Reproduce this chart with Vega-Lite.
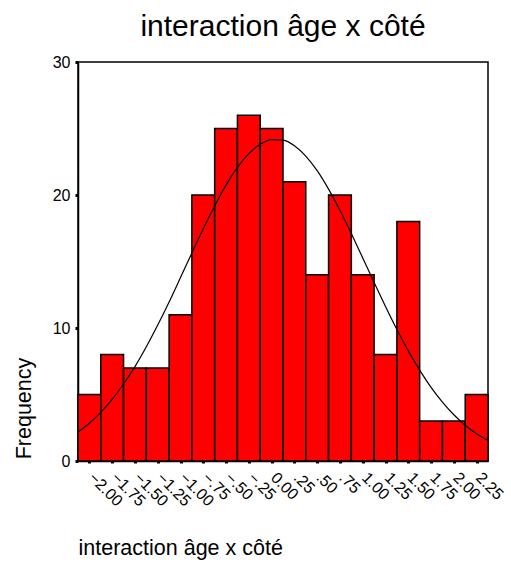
{
  "$schema": "https://vega.github.io/schema/vega-lite/v6.json",
  "autosize": {"type": "none"},
  "width": 410,
  "height": 399,
  "padding": {"left": 78, "top": 62, "right": 23, "bottom": 102},
  "background": "white",
  "config": {
    "font": "Liberation Sans",
    "view": {"stroke": "black", "strokeWidth": 1.5},
    "axis": {"grid": false, "labelOverlap": false, "domainColor": "black", "domainWidth": 1.5, "tickColor": "black", "labelColor": "black", "titleColor": "black", "labelFont": "Liberation Sans", "titleFont": "Liberation Sans", "titleFontWeight": "normal"}
  },
  "title": {"text": "interaction âge x côté", "fontSize": 30, "fontWeight": "normal", "font": "Liberation Sans", "color": "black", "anchor": "middle", "frame": "group", "offset": 12},
  "datasets": {
    "bars": [
      {"start": -2.125, "end": -1.875, "count": 5},
      {"start": -1.875, "end": -1.625, "count": 8},
      {"start": -1.625, "end": -1.375, "count": 7},
      {"start": -1.375, "end": -1.125, "count": 7},
      {"start": -1.125, "end": -0.875, "count": 11},
      {"start": -0.875, "end": -0.625, "count": 20},
      {"start": -0.625, "end": -0.375, "count": 25},
      {"start": -0.375, "end": -0.125, "count": 26},
      {"start": -0.125, "end": 0.125, "count": 25},
      {"start": 0.125, "end": 0.375, "count": 21},
      {"start": 0.375, "end": 0.625, "count": 14},
      {"start": 0.625, "end": 0.875, "count": 20},
      {"start": 0.875, "end": 1.125, "count": 14},
      {"start": 1.125, "end": 1.375, "count": 8},
      {"start": 1.375, "end": 1.625, "count": 18},
      {"start": 1.625, "end": 1.875, "count": 3},
      {"start": 1.875, "end": 2.125, "count": 3},
      {"start": 2.125, "end": 2.375, "count": 5}
    ],
    "curve": [
      {"x": -2.125, "y": 2.17}, {"x": -2.0, "y": 2.84}, {"x": -1.875, "y": 3.66}, {"x": -1.75, "y": 4.63},
      {"x": -1.625, "y": 5.79}, {"x": -1.5, "y": 7.1}, {"x": -1.375, "y": 8.59}, {"x": -1.25, "y": 10.22},
      {"x": -1.125, "y": 11.96}, {"x": -1.0, "y": 13.79}, {"x": -0.875, "y": 15.64}, {"x": -0.75, "y": 17.46},
      {"x": -0.625, "y": 19.18}, {"x": -0.5, "y": 20.74}, {"x": -0.375, "y": 22.07}, {"x": -0.25, "y": 23.11},
      {"x": -0.125, "y": 23.82}, {"x": 0.0, "y": 24.17}, {"x": 0.125, "y": 24.13}, {"x": 0.25, "y": 23.71},
      {"x": 0.375, "y": 22.93}, {"x": 0.5, "y": 21.83}, {"x": 0.625, "y": 20.44}, {"x": 0.75, "y": 18.85},
      {"x": 0.875, "y": 17.1}, {"x": 1.0, "y": 15.27}, {"x": 1.125, "y": 13.42}, {"x": 1.25, "y": 11.61},
      {"x": 1.375, "y": 9.88}, {"x": 1.5, "y": 8.28}, {"x": 1.625, "y": 6.83}, {"x": 1.75, "y": 5.54},
      {"x": 1.875, "y": 4.43}, {"x": 2.0, "y": 3.48}, {"x": 2.125, "y": 2.69}, {"x": 2.25, "y": 2.05},
      {"x": 2.375, "y": 1.54}
    ]
  },
  "layer": [
    {
      "data": {"name": "bars"},
      "mark": {"type": "rect", "fill": "#FF0000", "stroke": "black", "strokeWidth": 1.5},
      "encoding": {
        "x": {"field": "start", "type": "quantitative",
          "scale": {"domain": [-2.125, 2.375], "nice": false, "zero": false},
          "axis": {"title": "interaction âge x côté", "values": [-2, -1.75, -1.5, -1.25, -1, -0.75, -0.5, -0.25, 0, 0.25, 0.5, 0.75, 1, 1.25, 1.5, 1.75, 2, 2.25],
            "labelExpr": "datum.value == 0 ? '0.00' : replace(format(datum.value, '.2f'), '0.', '.')",
            "labelAngle": 45, "labelFontSize": 16, "labelPadding": 6, "labelOffset": 7, "labelAlign": "left", "labelBaseline": "top",
            "tickSize": 2, "tickWidth": 3, "labelOverlap": false, "labelFlush": false, "labelBound": false,
            "titleFontSize": 21.5, "titleX": 0, "titleY": 93, "titleAlign": "left", "titleBaseline": "alphabetic", "titleAnchor": "start"}},
        "x2": {"field": "end"},
        "y": {"field": "count", "type": "quantitative",
          "scale": {"domain": [0, 30], "nice": false},
          "axis": {"title": "Frequency", "values": [0, 10, 20, 30], "labelFontSize": 16, "labelPadding": 5,
            "tickSize": 3, "tickWidth": 3, "titleFontSize": 21.5, "titleX": -54, "titleY": 346, "titleAngle": -90, "titleAlign": "center", "titleBaseline": "middle"}},
        "y2": {"datum": 0}
      }
    },
    {
      "data": {"name": "curve"},
      "mark": {"type": "line", "color": "black", "strokeWidth": 1.2, "interpolate": "monotone"},
      "encoding": {
        "x": {"field": "x", "type": "quantitative",
          "axis": {"title": "interaction âge x côté", "values": [-2, -1.75, -1.5, -1.25, -1, -0.75, -0.5, -0.25, 0, 0.25, 0.5, 0.75, 1, 1.25, 1.5, 1.75, 2, 2.25],
            "labelExpr": "datum.value == 0 ? '0.00' : replace(format(datum.value, '.2f'), '0.', '.')",
            "labelAngle": 45, "labelFontSize": 16, "labelPadding": 6, "labelOffset": 7, "labelAlign": "left", "labelBaseline": "top",
            "tickSize": 2, "tickWidth": 3, "labelOverlap": false, "labelFlush": false, "labelBound": false,
            "titleFontSize": 21.5, "titleX": 0, "titleY": 93, "titleAlign": "left", "titleBaseline": "alphabetic", "titleAnchor": "start"}},
        "y": {"field": "y", "type": "quantitative",
          "axis": {"title": "Frequency", "values": [0, 10, 20, 30], "labelFontSize": 16, "labelPadding": 5,
            "tickSize": 3, "tickWidth": 3, "titleFontSize": 21.5, "titleX": -54, "titleY": 346, "titleAngle": -90, "titleAlign": "center", "titleBaseline": "middle"}}
      }
    }
  ]
}
